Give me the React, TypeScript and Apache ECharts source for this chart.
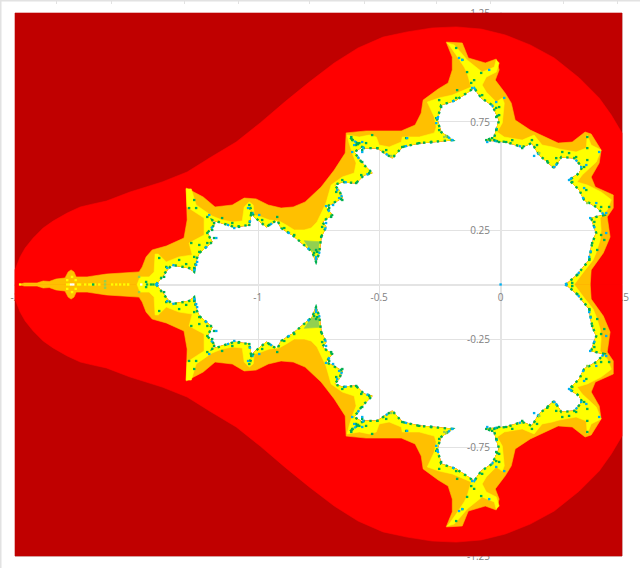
import React, { useEffect, useRef } from "react";
import * as echarts from "echarts";

// Upper half of each contour, as [re, im] in axis units.
const frameEdge = [[-2,0],[-2,1.25],[0.5,1.25],[0.5,0]];
const darkRedEdge = [[-2,0],[-2,0.067],[-1.979,0.127],[-1.958,0.168],[-1.925,0.214],[-1.884,0.26],[-1.843,0.292],[-1.785,0.329],[-1.731,0.357],[-1.678,0.371],[-1.624,0.384],[-1.526,0.426],[-1.394,0.472],[-1.291,0.518],[-1.192,0.587],[-1.089,0.656],[-0.99,0.744],[-0.887,0.842],[-0.788,0.932],[-0.685,1.02],[-0.587,1.089],[-0.484,1.139],[-0.385,1.163],[-0.282,1.181],[-0.183,1.186],[-0.08,1.176],[0.019,1.149],[0.122,1.103],[0.221,1.043],[0.324,0.951],[0.406,0.859],[0.456,0.78],[0.5,0.697],[0.5,0]];
const redEdge = [[-1.983,0],[-1.962,0.007],[-1.909,0.007],[-1.884,0.016],[-1.859,0.014],[-1.831,0.025],[-1.794,0.03],[-1.781,0.058],[-1.769,0.067],[-1.757,0.058],[-1.748,0.035],[-1.703,0.035],[-1.624,0.048],[-1.489,0.058],[-1.476,0.081],[-1.46,0.127],[-1.435,0.159],[-1.377,0.177],[-1.304,0.214],[-1.291,0.297],[-1.295,0.444],[-1.225,0.403],[-1.176,0.357],[-1.105,0.366],[-1.056,0.398],[-1.007,0.394],[-0.957,0.366],[-0.904,0.352],[-0.854,0.357],[-0.805,0.38],[-0.739,0.449],[-0.685,0.527],[-0.64,0.605],[-0.636,0.698],[-0.554,0.707],[-0.409,0.707],[-0.352,0.734],[-0.327,0.79],[-0.319,0.849],[-0.257,0.9],[-0.216,0.928],[-0.199,0.988],[-0.199,1.047],[-0.224,1.116],[-0.158,1.112],[-0.133,1.043],[-0.063,1.02],[-0.018,1.038],[-0.006,0.988],[-0.022,0.941],[0.019,0.881],[0.044,0.835],[0.06,0.757],[0.122,0.711],[0.237,0.651],[0.295,0.656],[0.348,0.702],[0.373,0.693],[0.414,0.619],[0.406,0.559],[0.373,0.495],[0.39,0.449],[0.464,0.412],[0.464,0.352],[0.439,0.311],[0.451,0.219],[0.423,0.145],[0.373,0.067],[0.369,0]];
const orangeEdge = [[-1.497,0],[-1.485,0.035],[-1.448,0.035],[-1.427,0.058],[-1.423,0.14],[-1.41,0.14],[-1.377,0.104],[-1.324,0.127],[-1.27,0.136],[-1.283,0.191],[-1.221,0.228],[-1.221,0.306],[-1.291,0.357],[-1.295,0.44],[-1.274,0.44],[-1.254,0.366],[-1.188,0.315],[-1.147,0.297],[-1.105,0.288],[-1.064,0.292],[-1.056,0.357],[-1.035,0.38],[-1.019,0.366],[-1.015,0.32],[-0.986,0.311],[-0.953,0.297],[-0.912,0.292],[-0.883,0.274],[-0.85,0.251],[-0.809,0.251],[-0.78,0.26],[-0.756,0.288],[-0.719,0.375],[-0.698,0.458],[-0.652,0.495],[-0.603,0.513],[-0.595,0.559],[-0.611,0.605],[-0.624,0.651],[-0.632,0.688],[-0.582,0.679],[-0.541,0.688],[-0.512,0.679],[-0.5,0.642],[-0.459,0.633],[-0.409,0.656],[-0.405,0.679],[-0.335,0.679],[-0.273,0.698],[-0.265,0.725],[-0.273,0.771],[-0.302,0.84],[-0.253,0.859],[-0.199,0.872],[-0.121,0.909],[-0.138,0.974],[-0.15,1.001],[-0.183,1.057],[-0.212,1.103],[-0.22,1.112],[-0.191,1.103],[-0.162,1.066],[-0.138,1.034],[-0.076,0.978],[-0.026,1.001],[-0.018,1.034],[-0.006,1.02],[-0.018,0.978],[-0.059,0.955],[-0.076,0.918],[-0.059,0.886],[-0.018,0.84],[0.007,0.859],[0.015,0.835],[0.007,0.744],[-0.014,0.702],[0.015,0.679],[0.089,0.665],[0.138,0.688],[0.171,0.642],[0.213,0.633],[0.241,0.624],[0.311,0.61],[0.353,0.628],[0.357,0.688],[0.373,0.642],[0.414,0.619],[0.394,0.564],[0.336,0.504],[0.315,0.472],[0.357,0.458],[0.414,0.426],[0.456,0.39],[0.439,0.343],[0.41,0.306],[0.414,0.251],[0.41,0.205],[0.393,0.145],[0.381,0.113],[0.348,0.067],[0.303,0]];
const setEdge = [[-1.418,0],[-1.373,0.067],[-1.353,0.09],[-1.283,0.076],[-1.262,0.058],[-1.254,0.113],[-1.241,0.145],[-1.188,0.196],[-1.208,0.237],[-1.18,0.274],[-1.188,0.297],[-1.097,0.265],[-1.035,0.274],[-1.027,0.329],[-1.035,0.366],[-1.015,0.311],[-0.965,0.265],[-0.92,0.297],[-0.904,0.26],[-0.858,0.228],[-0.776,0.15],[-0.76,0.104],[-0.747,0.145],[-0.739,0.219],[-0.719,0.265],[-0.735,0.288],[-0.694,0.32],[-0.719,0.357],[-0.652,0.398],[-0.665,0.435],[-0.685,0.458],[-0.652,0.472],[-0.595,0.467],[-0.562,0.504],[-0.529,0.513],[-0.57,0.559],[-0.603,0.61],[-0.57,0.633],[-0.624,0.679],[-0.582,0.642],[-0.562,0.628],[-0.508,0.628],[-0.446,0.582],[-0.405,0.633],[-0.335,0.651],[-0.282,0.656],[-0.199,0.665],[-0.245,0.702],[-0.261,0.757],[-0.245,0.826],[-0.183,0.849],[-0.109,0.905],[-0.08,0.859],[-0.035,0.826],[-0.006,0.757],[-0.026,0.679],[-0.059,0.665],[0.023,0.656],[0.089,0.633],[0.129,0.651],[0.159,0.596],[0.192,0.564],[0.221,0.536],[0.25,0.587],[0.303,0.582],[0.336,0.541],[0.324,0.513],[0.282,0.481],[0.324,0.435],[0.344,0.389],[0.394,0.357],[0.427,0.32],[0.373,0.306],[0.394,0.237],[0.377,0.191],[0.365,0.113],[0.315,0.044],[0.274,0.005],[0.266,0]];
const limeEdge = [[-0.809,0.202],[-0.747,0.197],[-0.751,0.15],[-0.78,0.154]];

// Single cells along the boundary, upper half.
const greenCells = [[-1.262,0.389],[-1.283,0.352],[-1.254,0.352],[-1.208,0.311],[-1.18,0.283],[-1.188,0.251],[-1.208,0.237],[-1.18,0.214],[-1.208,0.191],[-1.241,0.182],[-1.274,0.191],[-1.241,0.15],[-1.262,0.127],[-1.295,0.094],[-1.147,0.306],[-1.105,0.283],[-1.077,0.265],[-1.035,0.274],[-1.027,0.329],[-1.035,0.366],[-0.982,0.297],[-0.953,0.274],[-0.92,0.311],[-0.891,0.26],[-0.85,0.228],[-0.768,0.145],[-0.76,0.159],[-0.756,0.15],[-0.739,0.219],[-0.735,0.265],[-0.698,0.311],[-0.706,0.352],[-0.652,0.389],[-0.677,0.426],[-0.652,0.481],[-0.595,0.467],[-0.574,0.504],[-0.541,0.513],[-0.57,0.564],[-0.57,0.619],[-0.595,0.642],[-0.611,0.665],[-0.615,0.679],[-0.582,0.651],[-0.554,0.651],[-0.529,0.688],[-0.508,0.628],[-0.471,0.619],[-0.405,0.633],[-0.389,0.674],[-0.335,0.651],[-0.286,0.656],[-0.253,0.711],[-0.265,0.766],[-0.245,0.817],[-0.253,0.849],[-0.183,0.859],[-0.179,0.895],[-0.121,0.928],[-0.109,0.941],[-0.138,0.978],[-0.158,1.034],[-0.183,1.089],[-0.08,0.974],[-0.076,0.872],[-0.018,0.813],[-0.006,0.78],[-0.035,0.674],[-0.059,0.665],[-0.006,0.817],[-0.018,0.771],[-0.018,0.711],[-0.026,0.665],[-0.006,0.656],[0.023,0.656],[0.048,0.665],[0.089,0.628],[0.129,0.665],[0.15,0.642],[0.192,0.568],[0.229,0.582],[0.254,0.61],[0.282,0.605],[0.311,0.587],[0.357,0.679],[0.357,0.628],[0.357,0.573],[0.344,0.541],[0.295,0.472],[0.353,0.435],[0.414,0.357],[0.447,0.357],[0.386,0.288],[0.414,0.228],[0.427,0.205],[0.377,0.191],[0.398,0.159],[0.365,0.113],[0.315,0.044],[0.295,0.007],[-1.406,0.122],[-1.377,0.081],[-1.324,0.113],[-1.262,0.076],[-1.46,0.012],[-1.386,0.035],[-1.678,0],[-1.456,0],[-1.44,0],[-1.43,0]];
const blueCells = [[-1.2,0.32],[-1.171,0.214],[-1.097,0.26],[-1.04,0.352],[-0.994,0.32],[-0.76,0.117],[-0.76,0.127],[-0.719,0.283],[-0.719,0.361],[-0.69,0.366],[-0.665,0.398],[-0.673,0.435],[-0.611,0.61],[-0.57,0.656],[-1.262,0.067],[-1.25,0.104],[-0.199,0.665],[-0.261,0.766],[-0.265,0.743],[-0.158,1.034],[-0.171,1.043],[-0.047,0.988],[-0.385,0.674],[-0.603,0.642],[-0.57,0.61],[-0.117,0.905],[-0.018,0.84],[-0.055,0.656],[0.015,0.859],[0.221,0.541],[0.282,0.481],[0.406,0.61],[0.353,0.55],[0.332,0.541],[0.344,0.444],[0.394,0.375],[0.435,0.329],[0.369,0.306],[0.435,0.237],[0.365,0.127],[0.27,0.002],[0.138,0.592],[0,0],[-1.254,0.09],[-1.373,0.076],[-1.418,0]];
const limeCells = [[-0.451,0.592],[-0.232,0.679],[-0.224,0.684],[0.159,0.605],[0.357,0.375],[-1.489,0.035],[-1.629,0],[-1.629,0.015]];
const yellowCells = [[-1.979,0],[-1.785,0],[-1.777,0],[-1.74,0],[-1.732,0],[-1.711,0],[-1.694,0],[-1.686,0],[-1.67,0],[-1.653,0],[-1.6,0],[-1.583,0],[-1.567,0],[-1.55,0],[-1.534,0],[-1.785,0.02],[-1.75,0.02],[-1.765,0.035]];
const whiteCells = [[-1.769,0],[-1.76,0],[-1.48,0]];

const yTicks = [-1.25, -0.75, -0.25, 0.25, 0.75, 1.25];
const pageTicks = [56, 111, 184, 238, 309, 364, 436, 490, 563, 617];

const flip = (pts: number[][]) => pts.map(([x, y]) => [x, -y]);
const band = (outer: number[][]) => [...outer, ...[...setEdge].reverse()];
const both = (pts: number[][]) => [pts, flip(pts)];
const cellsBoth = (cells: number[][]) => [...cells, ...flip(cells.filter((c) => c[1] !== 0))];

function polygonSeries(polys: number[][][], color: string, z: number) {
  return {
    type: "custom",
    coordinateSystem: "cartesian2d",
    silent: true,
    z,
    data: polys.map((_, i) => [i]),
    renderItem: (params: any, api: any) => ({
      type: "polygon",
      shape: { points: polys[params.dataIndex].map((p) => api.coord(p)) },
      style: { fill: color, stroke: color, lineWidth: 0.6 },
    }),
  };
}

// The ragged rim of the set: the same contour, stroked in broken cell-sized dashes.
function rimSeries(color: string, dash: number[], z: number) {
  const rims = both(setEdge);
  return {
    type: "custom",
    coordinateSystem: "cartesian2d",
    silent: true,
    z,
    data: rims.map((_, i) => [i]),
    renderItem: (params: any, api: any) => ({
      type: "polyline",
      shape: { points: rims[params.dataIndex].map((p) => api.coord(p)) },
      style: { fill: "none", stroke: color, lineWidth: 2.4, lineDash: dash },
    }),
  };
}

function cellSeries(cells: number[][], color: string, z: number) {
  return {
    type: "custom",
    coordinateSystem: "cartesian2d",
    silent: true,
    z,
    data: cells,
    encode: { x: 0, y: 1 },
    renderItem: (_: any, api: any) => {
      const [cx, cy] = api.coord([api.value(0), api.value(1)]);
      const [w, h] = api.size([0.01, 0.0105]);
      return { type: "rect", shape: { x: cx - w / 2, y: cy - h / 2, width: w, height: h }, style: { fill: color } };
    },
  };
}

export default function App() {
  const ref = useRef<HTMLDivElement>(null);
  useEffect(() => {
    document.body.style.margin = "0";
    const chart = echarts.init(ref.current!, undefined, { renderer: "svg" });
    const axisText = { color: "#7f7f7f", fontSize: 10, fontFamily: "Open Sans" };
    const thick = { show: true, onZero: false, lineStyle: { color: "#e4e4e4", width: 2 } };
    const thin = { show: true, lineStyle: { color: "#e2e2e2", width: 1 } };
    chart.setOption({
      animation: false,
      backgroundColor: "#ffffff",
      grid: { left: 15, right: 18, top: 13, bottom: 12, outerBoundsMode: "none" },
      graphic: [
        { type: "rect", shape: { x: 0, y: 0, width: 640, height: 1.5 }, style: { fill: "#e2e2e2" } },
        { type: "rect", shape: { x: 0, y: 0, width: 1.5, height: 568 }, style: { fill: "#e2e2e2" } },
        ...pageTicks.map((x) => ({ type: "rect", shape: { x, y: 0, width: 1, height: 4 }, style: { fill: "#e2e2e2" } })),
      ],
      xAxis: {
        type: "value", min: -2, max: 0.5, interval: 0.5, offset: -271.5,
        axisLine: thick, axisTick: { show: false }, splitLine: thin,
        axisLabel: { ...axisText, margin: 7, hideOverlap: false, showMinLabel: true, showMaxLabel: true },
      },
      yAxis: {
        type: "value", min: -1.25, max: 1.25, interval: 0.25, offset: -486,
        axisLine: thick,
        axisTick: { show: false, customValues: yTicks },
        splitLine: thin,
        axisLabel: { ...axisText, margin: 11, customValues: yTicks, showMinLabel: true, showMaxLabel: true },
      },
      series: [
        polygonSeries(both(band(frameEdge)), "#c00000", 2),
        polygonSeries(both(band(darkRedEdge)), "#ff0000", 3),
        polygonSeries(both(band(redEdge)), "#ffc000", 4),
        polygonSeries(both(band(orangeEdge)), "#ffff00", 5),
        polygonSeries(both(limeEdge), "#92d050", 6),
        rimSeries("#00b050", [2.4, 4.5], 6),
        rimSeries("#00b0f0", [2.4, 23], 7),
        cellSeries(cellsBoth(yellowCells), "#ffff00", 7),
        cellSeries(cellsBoth(whiteCells), "#ffffff", 7),
        cellSeries(cellsBoth(limeCells), "#92d050", 7),
        cellSeries(cellsBoth(greenCells), "#00b050", 8),
        cellSeries(cellsBoth(blueCells), "#00b0f0", 9),
      ],
    } as any);
    return () => chart.dispose();
  }, []);
  return <div ref={ref} style={{ position: "fixed", left: 0, top: 0, width: 640, height: 568 }} />;
}
